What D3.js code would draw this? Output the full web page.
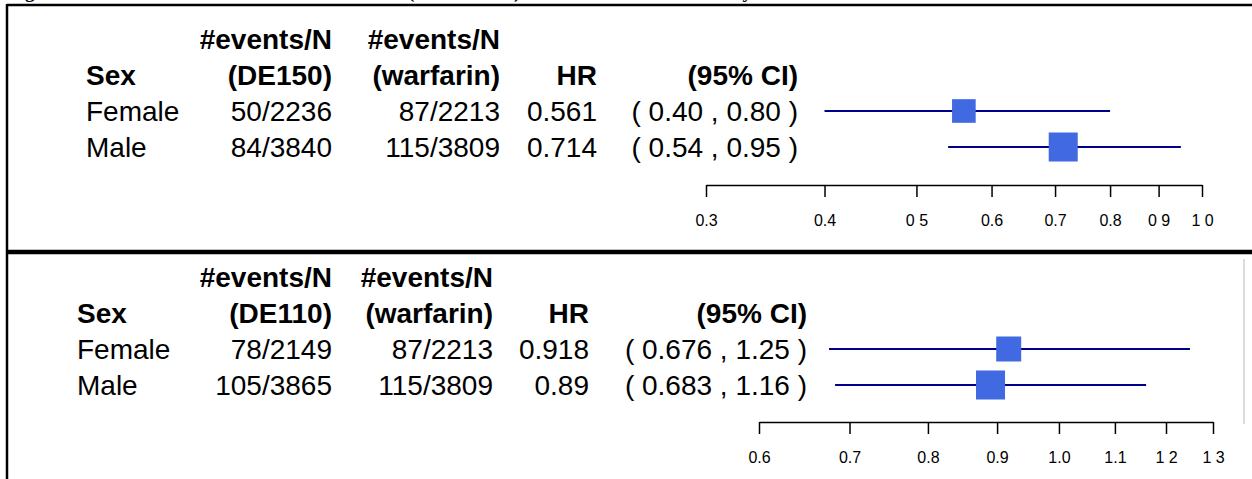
<!DOCTYPE html>
<html>
<head>
<meta charset="utf-8">
<style>
body { margin: 0; background: #fff; }
text { font-family: "Liberation Sans", Arial, sans-serif; fill: #000; }
.hdr { font-weight: bold; }
.tick text { font-family: "Liberation Sans", Arial, sans-serif; }
</style>
</head>
<body>
<svg id="thevis" width="1252" height="479"></svg>
<script src="https://cdn.jsdelivr.net/npm/d3@7"></script>
<script>
// data, one panel per dose
var sexes = ["Female", "Male"];

var nDE150 = ["50/2236", "84/3840"];
var nWarf150 = ["87/2213", "115/3809"];
var hr150 = [0.561, 0.714];
var lo150 = [0.40, 0.54];
var hi150 = [0.80, 0.95];
var hrText150 = ["0.561", "0.714"];
var ciText150 = ["( 0.40 , 0.80 )", "( 0.54 , 0.95 )"];
var ticks150 = [0.3, 0.4, 0.5, 0.6, 0.7, 0.8, 0.9, 1.0];
var tickLabels150 = ["0.3", "0.4", "0 5", "0.6", "0.7", "0.8", "0 9", "1 0"];

var nDE110 = ["78/2149", "105/3865"];
var nWarf110 = ["87/2213", "115/3809"];
var hr110 = [0.918, 0.89];
var lo110 = [0.676, 0.683];
var hi110 = [1.25, 1.16];
var hrText110 = ["0.918", "0.89"];
var ciText110 = ["( 0.676 , 1.25 )", "( 0.683 , 1.16 )"];
var ticks110 = [0.6, 0.7, 0.8, 0.9, 1.0, 1.1, 1.2, 1.3];
var tickLabels110 = ["0.6", "0.7", "0.8", "0.9", "1.0", "1.1", "1 2", "1 3"];

var svg = d3.select("svg");
svg.append("rect").attr("width", 1252).attr("height", 479).attr("fill", "#fff");

// title, cut off by the top of the page (only descenders show)
svg.append("text")
    .attr("x", 8).attr("y", -2)
    .style("font-family", "'Liberation Serif', serif")
    .style("font-weight", "bold")
    .style("font-size", "19px")
    .text("Figure 14.2  Hazard Ratio of Stroke/SEE 95% CI (Random Set) - Results of Sex in the Study");

function drawPanel(p) {
  var g = svg.append("g");
  var y = d3.scalePoint().domain([0, 1, 2, 3]).range([p.top, p.top + 108]);
  var fs = "28px";

  // header lines
  var h1 = [{t: "#events/N", x: p.cols[1]}, {t: "#events/N", x: p.cols[2]}];
  g.selectAll(".h1").data(h1).enter().append("text")
      .attr("class", "hdr")
      .attr("x", function(d) { return d.x; })
      .attr("y", y(0)).attr("dy", "0.36em")
      .attr("text-anchor", "end")
      .style("font-size", fs)
      .text(function(d) { return d.t; });

  var h2 = [
    {t: "Sex", x: p.cols[0], a: "start"},
    {t: p.drug, x: p.cols[1], a: "end"},
    {t: "(warfarin)", x: p.cols[2], a: "end"},
    {t: "HR", x: p.cols[3], a: "end"},
    {t: "(95% CI)", x: p.cols[4], a: "end"}
  ];
  g.selectAll(".h2").data(h2).enter().append("text")
      .attr("class", "hdr")
      .attr("x", function(d) { return d.x; })
      .attr("y", y(1)).attr("dy", "0.36em")
      .attr("text-anchor", function(d) { return d.a; })
      .style("font-size", fs)
      .text(function(d) { return d.t; });

  // rows
  var rows = sexes.map(function(s, i) {
    return [
      {t: s, x: p.cols[0], a: "start"},
      {t: p.nA[i], x: p.cols[1], a: "end"},
      {t: p.nB[i], x: p.cols[2], a: "end"},
      {t: p.hrText[i], x: p.cols[3], a: "end"},
      {t: p.ciText[i], x: p.cols[4], a: "end"}
    ].map(function(c) { c.r = i + 2; return c; });
  });
  g.selectAll(".cell").data(d3.merge(rows)).enter().append("text")
      .attr("x", function(d) { return d.x; })
      .attr("y", function(d) { return y(d.r); }).attr("dy", "0.36em")
      .attr("text-anchor", function(d) { return d.a; })
      .style("font-size", fs)
      .text(function(d) { return d.t; });

  // forest part
  var x = d3.scaleLog().domain(d3.extent(p.ticks)).range(p.xr);
  var se = p.lo.map(function(l, i) { return Math.log(p.hi[i] / l) / 3.92; });
  var minSe = d3.min(se);

  g.selectAll(".ci").data(sexes).enter().append("line")
      .attr("x1", function(d, i) { return x(p.lo[i]); })
      .attr("x2", function(d, i) { return x(p.hi[i]); })
      .attr("y1", function(d, i) { return y(i + 2); })
      .attr("y2", function(d, i) { return y(i + 2); })
      .attr("stroke", "#00008b").attr("stroke-width", 2);

  g.selectAll(".box").data(sexes).enter().append("rect")
      .attr("width", function(d, i) { return 29 * minSe / se[i]; })
      .attr("height", function(d, i) { return 29 * minSe / se[i]; })
      .attr("x", function(d, i) { return x(p.hr[i]) - 14.5 * minSe / se[i]; })
      .attr("y", function(d, i) { return y(i + 2) - 14.5 * minSe / se[i]; })
      .attr("fill", "#4169e1");

  var ax = g.append("g")
      .attr("transform", "translate(0," + p.axisY + ")")
      .call(d3.axisBottom(x)
        .tickValues(p.ticks)
        .tickFormat(function(d, i) { return p.tickLabels[i]; })
        .tickSize(12).tickSizeOuter(0).tickPadding(18));
  ax.select(".domain").attr("stroke", "#000").attr("stroke-width", 1.5);
  ax.selectAll(".tick line").attr("stroke", "#000").attr("stroke-width", 1.5);
  ax.selectAll(".tick text").style("font-size", "16px").attr("fill", "#000");
}

drawPanel({
  top: 39, axisY: 185, drug: "(DE150)",
  cols: [86, 332, 500, 597, 798],
  xr: [706, 1202],
  nA: nDE150, nB: nWarf150, hr: hr150, lo: lo150, hi: hi150,
  hrText: hrText150, ciText: ciText150, ticks: ticks150, tickLabels: tickLabels150
});

drawPanel({
  top: 277, axisY: 422, drug: "(DE110)",
  cols: [77, 332, 493, 589, 807],
  xr: [759, 1213],
  nA: nDE110, nB: nWarf110, hr: hr110, lo: lo110, hi: hi110,
  hrText: hrText110, ciText: ciText110, ticks: ticks110, tickLabels: tickLabels110
});

// frame lines
svg.append("line").attr("x1", 7).attr("x2", 1252).attr("y1", 5).attr("y2", 5)
    .attr("stroke", "#000").attr("stroke-width", 2.5);
svg.append("line").attr("x1", 7).attr("x2", 7).attr("y1", 4).attr("y2", 479)
    .attr("stroke", "#000").attr("stroke-width", 2.5);
svg.append("line").attr("x1", 7).attr("x2", 1252).attr("y1", 252).attr("y2", 252)
    .attr("stroke", "#000").attr("stroke-width", 4.5);
svg.append("line").attr("x1", 1244).attr("x2", 1244).attr("y1", 259).attr("y2", 424)
    .attr("stroke", "#dcdcdc").attr("stroke-width", 2);
</script>
</body>
</html>
